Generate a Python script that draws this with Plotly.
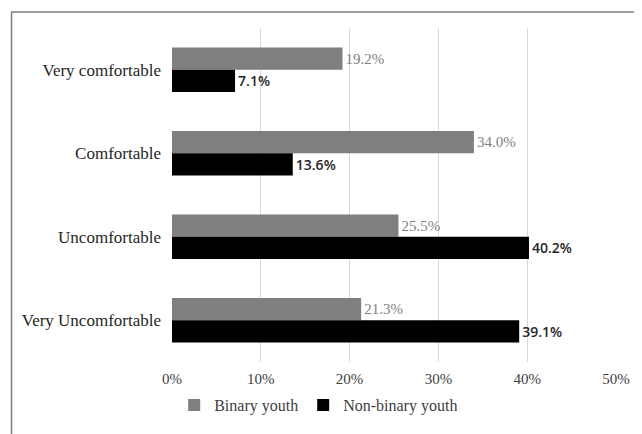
import plotly.graph_objects as go

categories = ["Very comfortable", "Comfortable", "Uncomfortable", "Very Uncomfortable"]
binary_youth = [19.2, 34.0, 25.5, 21.3]
nonbinary_youth = [7.1, 13.6, 40.2, 39.1]
x_ticks = [0, 10, 20, 30, 40, 50]
x_ticklabels = ["0%", "10%", "20%", "30%", "40%", "50%"]

serif = "Liberation Serif, Times New Roman, serif"
sans = "Open Sans, Liberation Sans, Arial, sans-serif"

fig = go.Figure()
fig.add_trace(go.Bar(
    y=categories, x=binary_youth, orientation="h", name="Binary youth",
    marker=dict(color="#7f7f7f", line=dict(width=0)),
    text=[f"{v:.1f}%" for v in binary_youth], textposition="outside",
    constraintext="none",
    textfont=dict(family=serif, size=15, color="#7f7f7f"), cliponaxis=False,
))
fig.add_trace(go.Bar(
    y=categories, x=nonbinary_youth, orientation="h", name="Non-binary youth",
    marker=dict(color="#000000", line=dict(width=0)),
    text=[f"{v:.1f}%" for v in nonbinary_youth], textposition="outside",
    constraintext="none",
    textfont=dict(family=sans, size=14, color="#262626", weight=600), cliponaxis=False,
))

W, H = 634, 426
L, T, R, B = 164, 20, 19, 72
pw = W - L - R
ph = H - T - B

fig.update_layout(
    width=W, height=H,
    margin=dict(l=L, r=R, t=T, b=B),
    paper_bgcolor="white", plot_bgcolor="white",
    barmode="group", bargap=0.47, bargroupgap=0,
    font=dict(family=serif, size=14, color="#404040"),
    xaxis=dict(range=[0, 50], tickvals=x_ticks, ticktext=x_ticklabels,
               showgrid=True, gridcolor="#d9d9d9", gridwidth=1,
               zeroline=False, showline=False, ticks="", ticklabelstandoff=6,
               tickfont=dict(family=serif, size=15, color="#404040")),
    yaxis=dict(autorange="reversed", showgrid=False, zeroline=False,
               showline=False, ticks="", ticklabelstandoff=10,
               tickfont=dict(family=serif, size=17, color="#262626")),
    legend=dict(orientation="h", x=(313 - L) / pw, xanchor="center",
                y=(T + ph - 397) / ph, yanchor="middle",
                font=dict(family=serif, size=16, color="#404040"),
                itemwidth=30, tracegroupgap=0),
    showlegend=True,
    shapes=[dict(type="rect", xref="paper", yref="paper",
                 x0=(1 - L) / pw, x1=1.2, y0=-0.4, y1=(T + ph - 4) / ph,
                 line=dict(color="#7f7f7f", width=1.5), fillcolor="rgba(0,0,0,0)", layer="below")],
)

fig.write_html("out.html")
